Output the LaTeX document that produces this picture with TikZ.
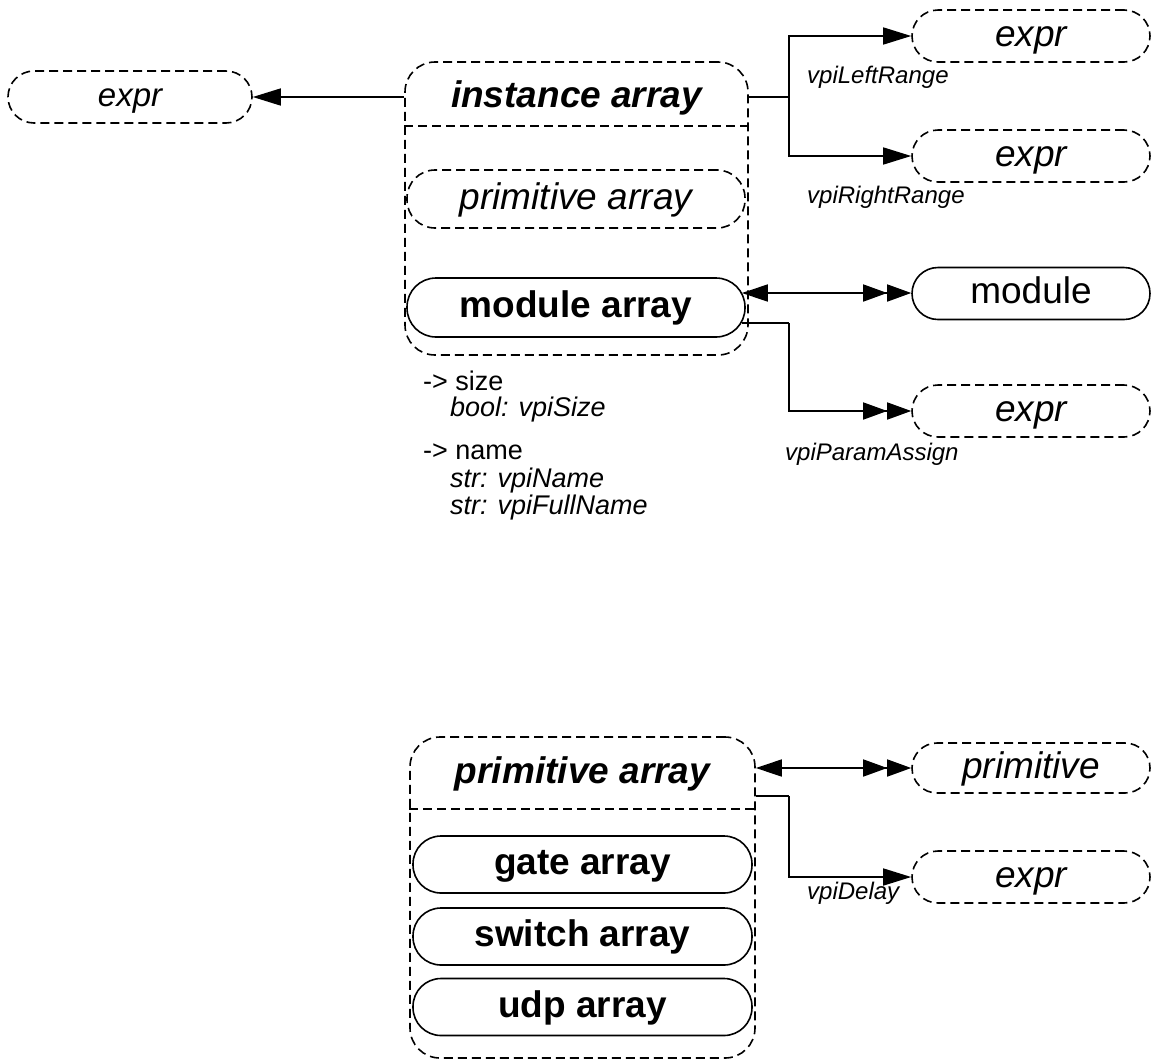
\documentclass[tikz,border=0pt]{standalone}
\usepackage{fontspec}
\setmainfont{Liberation Sans}
\usetikzlibrary{arrows.meta}
\newcommand\fsbig{\fontsize{37}{44}\selectfont}
\newcommand\fsexp{\fontsize{33}{40}\selectfont}
\newcommand\fslab{\fontsize{24}{29}\selectfont}
\newcommand\fsmid{\fontsize{27}{32}\selectfont}
\begin{document}
\begin{tikzpicture}[x=1pt,y=-1pt,
  ln/.style={line width=1.6pt},
  dsh/.style={line width=1.6pt, dash pattern=on 9pt off 5pt},
  tx/.style={text height=27pt, text depth=7pt},
  pill/.style={draw, ln, tx, rounded corners=26pt, inner sep=0pt, minimum width=238pt, minimum height=52pt, font=\fsbig},
  dpill/.style={pill, dsh, font=\fsbig\itshape},
  inbox/.style={draw, ln, tx, rounded corners=28pt, inner sep=0pt, minimum width=338pt, minimum height=58pt, font=\fsbig\bfseries},
  container/.style={draw, dsh, rounded corners=30pt, inner sep=0pt},
  lab/.style={anchor=west, inner sep=0pt, font=\fslab\itshape},
  blk/.style={anchor=west, inner sep=0pt, font=\fsmid},
  arr/.style={ln, -{Triangle[length=28pt,width=17pt]}},
  darr/.style={ln, -{Triangle[length=24pt,width=17pt]Triangle[length=24pt,width=17pt]}},
  bdarr/.style={ln, {Triangle[length=26pt,width=17pt]}-{Triangle[length=24pt,width=17pt]Triangle[length=24pt,width=17pt]}}
]
\useasboundingbox (0,0) rectangle (1152,1061);

% ---------- top group ----------
\node[container, minimum width=343pt, minimum height=293pt] (ia) at (576.5,208.5) {};
\node[tx, font=\fsbig\bfseries\itshape] (iahead) at (576.5,97) {instance array};
\draw[dsh] (ia.west |- 0,126) -- (ia.east |- 0,126);
\node[inbox, dsh, font=\fsbig\itshape] (pa) at (576,199) {primitive array};
\node[inbox, minimum height=59pt, rounded corners=29pt] (ma) at (576,307.5) {module array};

\node[dpill, minimum width=244pt, font=\fsexp\itshape, text height=24pt, text depth=6pt] (ex0) at (130,97) {expr};
\node[dpill] (ex1) at (1031,36) {expr};
\node[dpill] (ex2) at (1031,156) {expr};
\node[pill] (mod) at (1031,293.5) {module};
\node[dpill] (ex3) at (1031,411) {expr};

\draw[arr] (ia.west |- iahead) -- (ex0.east);
\draw[ln] (ia.east |- iahead) -- (789,97) coordinate (j1);
\draw[arr] (j1) |- (ex1.west);
\draw[arr] (j1) |- (ex2.west);
\draw[bdarr] ([xshift=-4pt,yshift=14.5pt]ma.east) coordinate (s1) -- (s1 -| mod.west);
\draw[ln] ([xshift=-4pt,yshift=-15.5pt]ma.east) -- (789,323) coordinate (j2);
\draw[darr] (j2) |- (ex3.west);

\node[lab] (l1) at (807,77) {vpiLeftRange};
\node[lab] (l2) at (807,197) {vpiRightRange};
\node[lab] (l3) at (785,454) {vpiParamAssign};

\node[blk] (b1) at (423,381) {-> size};
\node[blk, font=\fsmid\itshape] (b2) at (450,410) {bool: vpiSize};
\node[blk] (b3) at (423,452) {-> name};
\node[blk, font=\fsmid\itshape] (b4) at (450,481) {str: vpiName};
\node[blk, font=\fsmid\itshape] (b5) at (450,508) {str: vpiFullName};

% ---------- bottom group ----------
\node[container, minimum width=345pt, minimum height=321pt] (pg) at (582.5,897.5) {};
\node[tx, font=\fsbig\bfseries\itshape] (pghead) at (582.5,773) {primitive array};
\draw[dsh] (pg.west |- 0,809) -- (pg.east |- 0,809);
\node[inbox, minimum width=339pt, minimum height=57pt] (ga) at (582.5,864.5) {gate array};
\node[inbox, minimum width=339pt, minimum height=57pt] (sa) at (582.5,936.5) {switch array};
\node[inbox, minimum width=339pt, minimum height=57pt] (ua) at (582.5,1007) {udp array};

\node[dpill, minimum height=50pt, rounded corners=25pt] (prim) at (1031,768) {primitive};
\node[dpill] (ex4) at (1031,877) {expr};

\draw[bdarr] (pg.east |- prim) -- (prim.west);
\draw[ln] (pg.east |- 0,796) -- (789,796) coordinate (j3);
\draw[arr] (j3) |- (ex4.west);
\node[lab] (l4) at (807,893) {vpiDelay};
\end{tikzpicture}
\end{document}
